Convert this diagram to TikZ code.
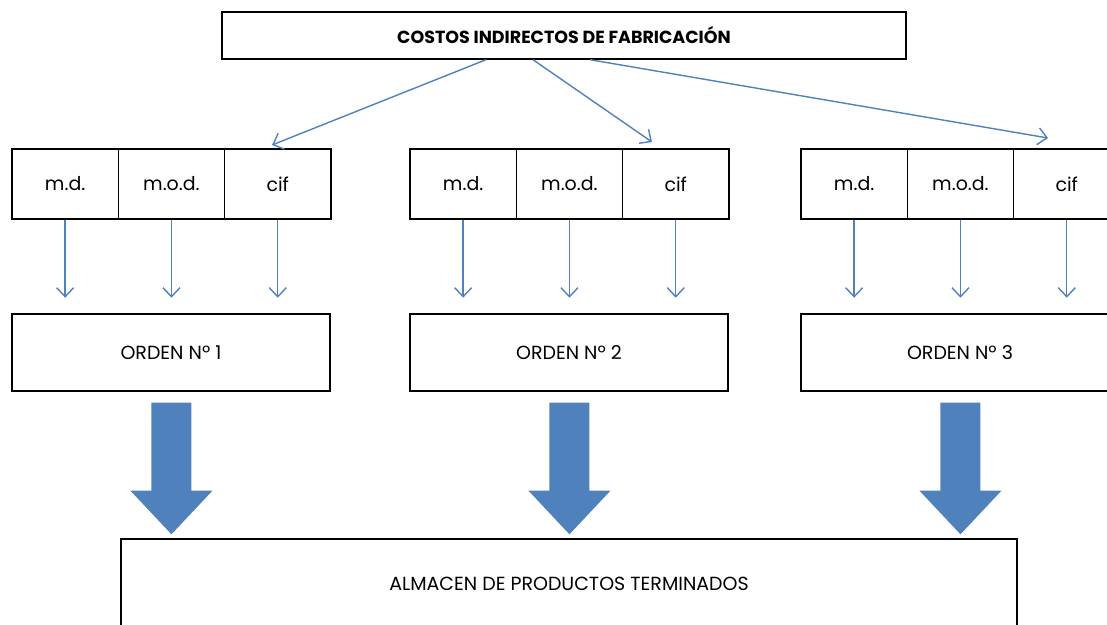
\documentclass[tikz,border=0pt]{standalone}
\usepackage{fontspec}
\setmainfont{Poppins}
\usetikzlibrary{arrows.meta,calc}
\definecolor{obl}{HTML}{4F81BD}
\begin{document}
\begin{tikzpicture}[x=1pt,y=-1pt,
  box/.style={draw=black,line width=1.4pt,inner sep=0pt,fill=white},
  cell/.style={box,minimum width=106.3pt,minimum height=70pt,font=\fontsize{19}{19}\selectfont},
  ordbox/.style={box,minimum width=318pt,minimum height=77pt,font=\fontsize{19}{19}\selectfont},
  thin/.style={draw=obl,line width=1.4pt,-{Straight Barb[length=9pt,width=17pt,line width=1.4pt]}},
  big/.style={fill=obl,draw=none}]
\useasboundingbox (0,0) rectangle (1107,624);
\clip (0,0) rectangle (1107,624);
\node[box,minimum width=684pt,minimum height=47pt,font=\bfseries\fontsize{17.5}{17.5}\selectfont] (top) at (564,35.5) {COSTOS INDIRECTOS DE FABRICACIÓN};
\foreach \g/\x in {1/12,2/410,3/801}{
  \node[cell] (md\g) at (\x+53.15,184) {m.d.};
  \node[cell] (mod\g) at (\x+159.45,184) {m.o.d.};
  \node[cell] (cif\g) at (\x+265.75,184) {cif};
  \node[ordbox] (ord\g) at (\x+159,352.5) {ORDEN Nº \g};
  \foreach \c in {md,mod,cif}{
    \coordinate (e\c\g) at ($(\c\g.south)+(0,78)$);
    \draw[thin] (\c\g.south) -- (e\c\g);
  }
}
\node[box,minimum width=896pt,minimum height=90pt,font=\fontsize{19}{19}\selectfont] (alm) at (569,584) {ALMACEN DE PRODUCTOS TERMINADOS};
\coordinate (t1) at (272,145);
\coordinate (t2) at (652,142);
\coordinate (t3) at (1048,138);
\draw[thin] ([xshift=-78pt]top.south) -- (t1);
\draw[thin] ([xshift=-31pt]top.south) -- (t2);
\draw[thin] ([xshift=26pt]top.south) -- (t3);
\foreach \g in {1,2,3}{
  \path[big] ($(mod\g.south |- ord\g.south)+(-20,11)$) -- ++(40,0) -- ++(0,88) -- ++(21,0)
    -- ($(mod\g.south |- alm.north)+(0,-4)$) -- ($(mod\g.south |- ord\g.south)+(-41,99)$) -- ++(21,0) -- cycle;
}
\end{tikzpicture}
\end{document}
